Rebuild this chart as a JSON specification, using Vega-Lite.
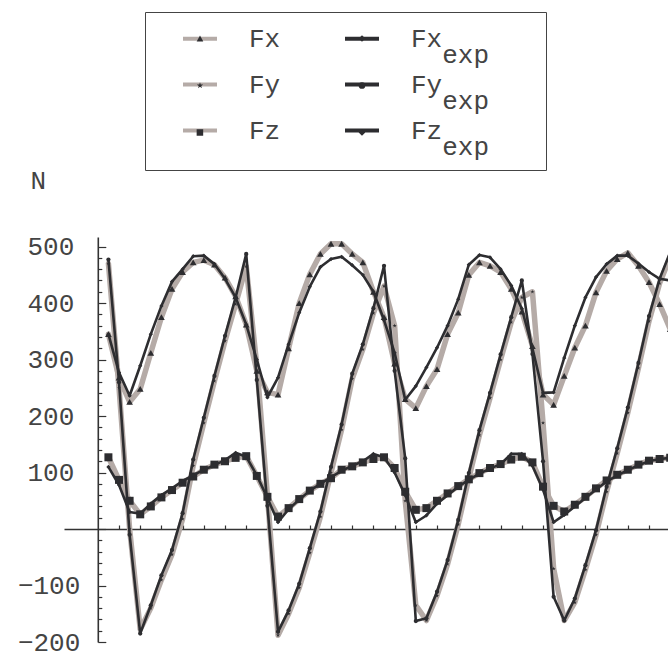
{
  "$schema": "https://vega.github.io/schema/vega-lite/v6.json",
  "width": 604,
  "height": 405,
  "autosize": {"type": "none"},
  "padding": {"left": 64, "top": 237, "right": 0, "bottom": 22},
  "background": "white",
  "config": {"view": {"stroke": null}, "axis": {"grid": false}},
  "data": {"values": [
    {"t": 1, "Fx": 345, "Fx_exp": 345, "Fy": 470, "Fy_exp": 477, "Fz": 127, "Fz_exp": 110},
    {"t": 2, "Fx": 268, "Fx_exp": 277, "Fy": 250, "Fy_exp": 260, "Fz": 87, "Fz_exp": 78},
    {"t": 3, "Fx": 225, "Fx_exp": 236, "Fy": 0, "Fy_exp": -10, "Fz": 50, "Fz_exp": 30},
    {"t": 4, "Fx": 248, "Fx_exp": 289, "Fy": -178, "Fy_exp": -185, "Fz": 26, "Fz_exp": 27},
    {"t": 5, "Fx": 312, "Fx_exp": 345, "Fy": -140, "Fy_exp": -135, "Fz": 40, "Fz_exp": 45},
    {"t": 6, "Fx": 375, "Fx_exp": 395, "Fy": -90, "Fy_exp": -82, "Fz": 56, "Fz_exp": 60},
    {"t": 7, "Fx": 425, "Fx_exp": 438, "Fy": -45, "Fy_exp": -37, "Fz": 69, "Fz_exp": 72},
    {"t": 8, "Fx": 455, "Fx_exp": 460, "Fy": 18, "Fy_exp": 28, "Fz": 82, "Fz_exp": 85},
    {"t": 9, "Fx": 472, "Fx_exp": 483, "Fy": 112, "Fy_exp": 123, "Fz": 93, "Fz_exp": 95},
    {"t": 10, "Fx": 476, "Fx_exp": 484, "Fy": 188, "Fy_exp": 197, "Fz": 105, "Fz_exp": 105},
    {"t": 11, "Fx": 468, "Fx_exp": 469, "Fy": 262, "Fy_exp": 271, "Fz": 114, "Fz_exp": 113},
    {"t": 12, "Fx": 445, "Fx_exp": 443, "Fy": 333, "Fy_exp": 342, "Fz": 120, "Fz_exp": 122},
    {"t": 13, "Fx": 412, "Fx_exp": 410, "Fy": 398, "Fy_exp": 410, "Fz": 126, "Fz_exp": 135},
    {"t": 14, "Fx": 362, "Fx_exp": 362, "Fy": 465, "Fy_exp": 487, "Fz": 129, "Fz_exp": 128},
    {"t": 15, "Fx": 280, "Fx_exp": 300, "Fy": 290, "Fy_exp": 264, "Fz": 94, "Fz_exp": 95},
    {"t": 16, "Fx": 242, "Fx_exp": 233, "Fy": 60, "Fy_exp": 41, "Fz": 57, "Fz_exp": 55},
    {"t": 17, "Fx": 238, "Fx_exp": 268, "Fy": -188, "Fy_exp": -182, "Fz": 22, "Fz_exp": 12},
    {"t": 18, "Fx": 320, "Fx_exp": 327, "Fy": -150, "Fy_exp": -144, "Fz": 37, "Fz_exp": 35},
    {"t": 19, "Fx": 400, "Fx_exp": 383, "Fy": -104, "Fy_exp": -97, "Fz": 53, "Fz_exp": 52},
    {"t": 20, "Fx": 451, "Fx_exp": 429, "Fy": -42, "Fy_exp": -34, "Fz": 68, "Fz_exp": 68},
    {"t": 21, "Fx": 487, "Fx_exp": 464, "Fy": 22, "Fy_exp": 31, "Fz": 80, "Fz_exp": 80},
    {"t": 22, "Fx": 505, "Fx_exp": 478, "Fy": 100, "Fy_exp": 110, "Fz": 90, "Fz_exp": 92},
    {"t": 23, "Fx": 505, "Fx_exp": 482, "Fy": 176, "Fy_exp": 185, "Fz": 105, "Fz_exp": 103},
    {"t": 24, "Fx": 487, "Fx_exp": 467, "Fy": 266, "Fy_exp": 275, "Fz": 111, "Fz_exp": 112},
    {"t": 25, "Fx": 472, "Fx_exp": 450, "Fy": 318, "Fy_exp": 327, "Fz": 118, "Fz_exp": 120},
    {"t": 26, "Fx": 420, "Fx_exp": 420, "Fy": 382, "Fy_exp": 391, "Fz": 124, "Fz_exp": 133},
    {"t": 27, "Fx": 375, "Fx_exp": 370, "Fy": 430, "Fy_exp": 466, "Fz": 127, "Fz_exp": 127},
    {"t": 28, "Fx": 293, "Fx_exp": 312, "Fy": 360, "Fy_exp": 280, "Fz": 108, "Fz_exp": 100},
    {"t": 29, "Fx": 230, "Fx_exp": 229, "Fy": 50, "Fy_exp": 125, "Fz": 66, "Fz_exp": 60},
    {"t": 30, "Fx": 214, "Fx_exp": 253, "Fy": -135, "Fy_exp": -163, "Fz": 34, "Fz_exp": 12},
    {"t": 31, "Fx": 253, "Fx_exp": 286, "Fy": -162, "Fy_exp": -158, "Fz": 37, "Fz_exp": 24},
    {"t": 32, "Fx": 283, "Fx_exp": 321, "Fy": -118, "Fy_exp": -111, "Fz": 50, "Fz_exp": 45},
    {"t": 33, "Fx": 345, "Fx_exp": 360, "Fy": -62, "Fy_exp": -55, "Fz": 63, "Fz_exp": 60},
    {"t": 34, "Fx": 383, "Fx_exp": 407, "Fy": 8, "Fy_exp": 16, "Fz": 76, "Fz_exp": 75},
    {"t": 35, "Fx": 450, "Fx_exp": 468, "Fy": 90, "Fy_exp": 99, "Fz": 88, "Fz_exp": 87},
    {"t": 36, "Fx": 472, "Fx_exp": 485, "Fy": 166, "Fy_exp": 175, "Fz": 99, "Fz_exp": 98},
    {"t": 37, "Fx": 466, "Fx_exp": 481, "Fy": 232, "Fy_exp": 241, "Fz": 108, "Fz_exp": 107},
    {"t": 38, "Fx": 455, "Fx_exp": 460, "Fy": 300, "Fy_exp": 309, "Fz": 115, "Fz_exp": 115},
    {"t": 39, "Fx": 425, "Fx_exp": 431, "Fy": 366, "Fy_exp": 375, "Fz": 123, "Fz_exp": 133},
    {"t": 40, "Fx": 385, "Fx_exp": 390, "Fy": 410, "Fy_exp": 440, "Fz": 128, "Fz_exp": 133},
    {"t": 41, "Fx": 324, "Fx_exp": 320, "Fy": 420, "Fy_exp": 310, "Fz": 118, "Fz_exp": 112},
    {"t": 42, "Fx": 238, "Fx_exp": 241, "Fy": 188, "Fy_exp": 120, "Fz": 75, "Fz_exp": 70},
    {"t": 43, "Fx": 220, "Fx_exp": 242, "Fy": -70, "Fy_exp": -120, "Fz": 41, "Fz_exp": 12},
    {"t": 44, "Fx": 271, "Fx_exp": 303, "Fy": -162, "Fy_exp": -162, "Fz": 31, "Fz_exp": 25},
    {"t": 45, "Fx": 321, "Fx_exp": 360, "Fy": -130, "Fy_exp": -123, "Fz": 43, "Fz_exp": 40},
    {"t": 46, "Fx": 360, "Fx_exp": 410, "Fy": -72, "Fy_exp": -64, "Fz": 57, "Fz_exp": 55},
    {"t": 47, "Fx": 419, "Fx_exp": 446, "Fy": -10, "Fy_exp": -2, "Fz": 72, "Fz_exp": 70},
    {"t": 48, "Fx": 457, "Fx_exp": 469, "Fy": 66, "Fy_exp": 75, "Fz": 86, "Fz_exp": 84},
    {"t": 49, "Fx": 478, "Fx_exp": 484, "Fy": 134, "Fy_exp": 143, "Fz": 96, "Fz_exp": 95},
    {"t": 50, "Fx": 489, "Fx_exp": 484, "Fy": 206, "Fy_exp": 215, "Fz": 105, "Fz_exp": 104},
    {"t": 51, "Fx": 466, "Fx_exp": 470, "Fy": 285, "Fy_exp": 294, "Fz": 114, "Fz_exp": 113},
    {"t": 52, "Fx": 437, "Fx_exp": 455, "Fy": 368, "Fy_exp": 377, "Fz": 121, "Fz_exp": 120},
    {"t": 53, "Fx": 398, "Fx_exp": 443, "Fy": 435, "Fy_exp": 443, "Fz": 124, "Fz_exp": 124},
    {"t": 54, "Fx": 354, "Fx_exp": 440, "Fy": 482, "Fy_exp": 490, "Fz": 126, "Fz_exp": 126}
  ]},
  "transform": [{"fold": ["Fx", "Fx_exp", "Fy", "Fy_exp", "Fz", "Fz_exp"], "as": ["series", "v"]}],
  "encoding": {
    "x": {
      "field": "t", "type": "quantitative",
      "scale": {"domain": [-3.19, 53.79], "nice": false, "zero": false},
      "axis": {
        "values": [2,4,6,8,10,12,14,16,18,20,22,24,26,28,30,32,34,36,38,40,42,44,46,48,50,52],
        "labels": false, "title": null, "grid": false,
        "offset": -113, "tickSize": -4, "tickColor": "#333", "tickWidth": 1.2,
        "domainColor": "#333", "domainWidth": 1.6
      }
    },
    "y": {
      "field": "v", "type": "quantitative",
      "scale": {"domain": [-200, 517], "nice": false, "zero": false},
      "axis": {
        "values": [-200,-180,-160,-140,-120,-100,-80,-60,-40,-20,0,20,40,60,80,100,120,140,160,180,200,220,240,260,280,300,320,340,360,380,400,420,440,460,480,500],
        "labelExpr": "datum.value % 100 === 0 && datum.value !== 0 ? datum.label : ''",
        "offset": -33.8,
        "tickSize": {"condition": {"test": "datum.value % 100 === 0", "value": -8}, "value": -4},
        "labelPadding": {"condition": {"test": "datum.value < 0", "value": 26}, "value": 32},
        "tickColor": "#333", "tickWidth": 1.2,
        "domainColor": "#333", "domainWidth": 1.6,
        "labelFont": "Liberation Mono", "labelFontSize": 26, "labelColor": "#444",
        "labelOverlap": false, "labelFlush": false,
        "title": "N", "titleAngle": 0, "titleX": -60, "titleY": -57,
        "titleAlign": "center", "titleBaseline": "middle",
        "titleFont": "Liberation Mono", "titleFontSize": 26, "titleFontWeight": "normal", "titleColor": "#444"
      }
    }
  },
  "layer": [
    {
      "transform": [{"filter": "indexof(datum.series, 'exp') < 0"}],
      "mark": {"type": "line", "clip": true, "strokeWidth": 5.5, "strokeJoin": "round", "strokeCap": "round"},
      "encoding": {
        "color": {"field": "series", "type": "nominal",
          "scale": {"range": ["#b5aba7", "#2d2d30", "#b5aba7", "#2d2d30", "#b5aba7", "#2d2d30"]},
          "legend": {"orient": "none", "legendX": 81, "legendY": -225, "direction": "horizontal", "columns": 2, "title": null,
            "symbolType": "stroke", "symbolSize": 1156, "symbolStrokeWidth": 4, "clipHeight": 33, "symbolOffset": 26, "labelOffset": 30,
            "padding": 10, "rowPadding": 0, "columnPadding": 36, "strokeColor": "#444",
            "labelFont": "Liberation Mono", "labelFontSize": 26, "labelColor": "#444", "labelLimit": 400,
            "labelExpr": "indexof(datum.label, '_') > 0 ? [slice(datum.label, 0, indexof(datum.label, '_')), '\u200b\u00a0\u00a0exp\u00a0\u00a0\u00a0\u200b'] : [datum.label, '\u200b']",
            "encode": {"labels": {"update": {"lineHeight": {"value": 16}}}}}}
      }
    },
    {
      "transform": [{"filter": "indexof(datum.series, 'exp') >= 0"}],
      "mark": {"type": "line", "clip": true, "strokeWidth": 2.6, "strokeJoin": "round"},
      "encoding": {
        "color": {"field": "series", "type": "nominal"}
      }
    },
    {
      "transform": [{"filter": "datum.series === 'Fx'"}],
      "mark": {"type": "point", "filled": true, "color": "#2d2d30", "opacity": 1, "clip": true, "size": 45},
      "encoding": {
        "shape": {"field": "series", "type": "nominal",
          "scale": {"domain": ["Fx", "Fx_exp", "Fy", "Fy_exp", "Fz", "Fz_exp"],
            "range": ["triangle-up", "diamond", "M0,-1L0.22,-0.31L0.95,-0.31L0.36,0.12L0.59,0.81L0,0.38L-0.59,0.81L-0.36,0.12L-0.95,-0.31L-0.22,-0.31Z", "circle", "square", "diamond"]},
          "legend": {"orient": "none", "legendX": 81, "legendY": -225, "direction": "horizontal", "columns": 2, "title": null,
            "clipHeight": 33, "symbolOffset": 41.5, "labelOffset": 0, "symbolSize": 45, "symbolStrokeWidth": 0,
            "padding": 10, "rowPadding": 14, "columnPadding": 113,
            "symbolFillColor": "#2d2d30",
            "labelFontSize": 1, "labelLimit": 400,
            "labelExpr": "''"}}
      }
    },
    {
      "transform": [{"filter": "datum.series === 'Fz'"}],
      "mark": {"type": "point", "filled": true, "color": "#2d2d30", "opacity": 1, "clip": true, "size": 64},
      "encoding": {
        "shape": {"field": "series", "type": "nominal"}
      }
    },
    {
      "transform": [{"filter": "datum.series !== 'Fx' && datum.series !== 'Fz'"}],
      "mark": {"type": "point", "filled": true, "color": "#2d2d30", "opacity": 1, "clip": true, "size": 18},
      "encoding": {
        "shape": {"field": "series", "type": "nominal"}
      }
    }
  ]
}
